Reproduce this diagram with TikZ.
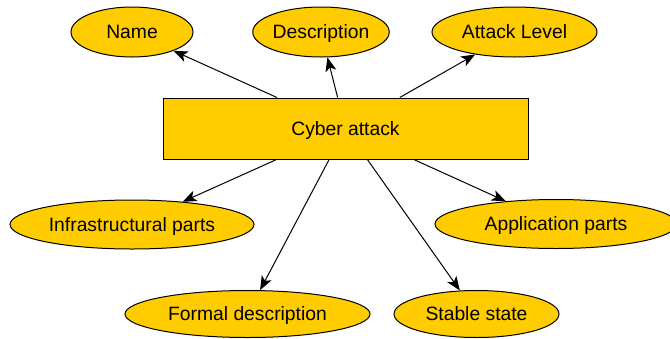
\documentclass[tikz,border=0pt]{standalone}
\usepackage{fontspec}
\setmainfont{Liberation Sans}
\usetikzlibrary{shapes.geometric,arrows.meta}
\definecolor{gold}{RGB}{255,204,0}
\begin{document}
\begin{tikzpicture}[x=1pt,y=-1pt,
  every node/.style={font=\fontsize{19.3}{22}\selectfont, text=black, text height=13.5pt, text depth=0pt},
  oval/.style={ellipse, draw=black, line width=1pt, fill=gold, inner sep=0pt},
  mainbox/.style={rectangle, draw=black, line width=1pt, fill=gold, inner sep=0pt, minimum width=365pt, minimum height=61pt},
  arr/.style={draw=black, line width=1pt, -{Stealth[length=14pt,width=11pt,inset=3.5pt]}}]
\useasboundingbox (0,0) rectangle (670,338);
\node[mainbox] (cyber) at (345.5,128.5) {Cyber attack};
\node[oval, minimum width=122pt, minimum height=50pt] (name) at (132,32) {Name};
\node[oval, minimum width=122pt, minimum height=50pt] (desc) at (321,32) {Description};
\node[oval, minimum width=165pt, minimum height=50pt] (level) at (514.5,32) {Attack Level};
\node[oval, minimum width=244pt, minimum height=49pt] (infra) at (132,224.5) {Infrastructural parts};
\node[oval, minimum width=242pt, minimum height=49pt] (app) at (556,224) {Application parts};
\node[oval, minimum width=245pt, minimum height=47pt] (formal) at (247.5,314) {Formal description};
\node[oval, minimum width=165pt, minimum height=47pt] (stable) at (476.5,314) {Stable state};
\draw[arr] (cyber) -- (name);
\draw[arr] (cyber) -- (desc);
\draw[arr] (cyber) -- (level);
\draw[arr] (cyber) -- (infra);
\draw[arr] (cyber) -- (app);
\draw[arr] (cyber) -- (formal);
\draw[arr] (cyber) -- (stable);
\end{tikzpicture}
\end{document}
